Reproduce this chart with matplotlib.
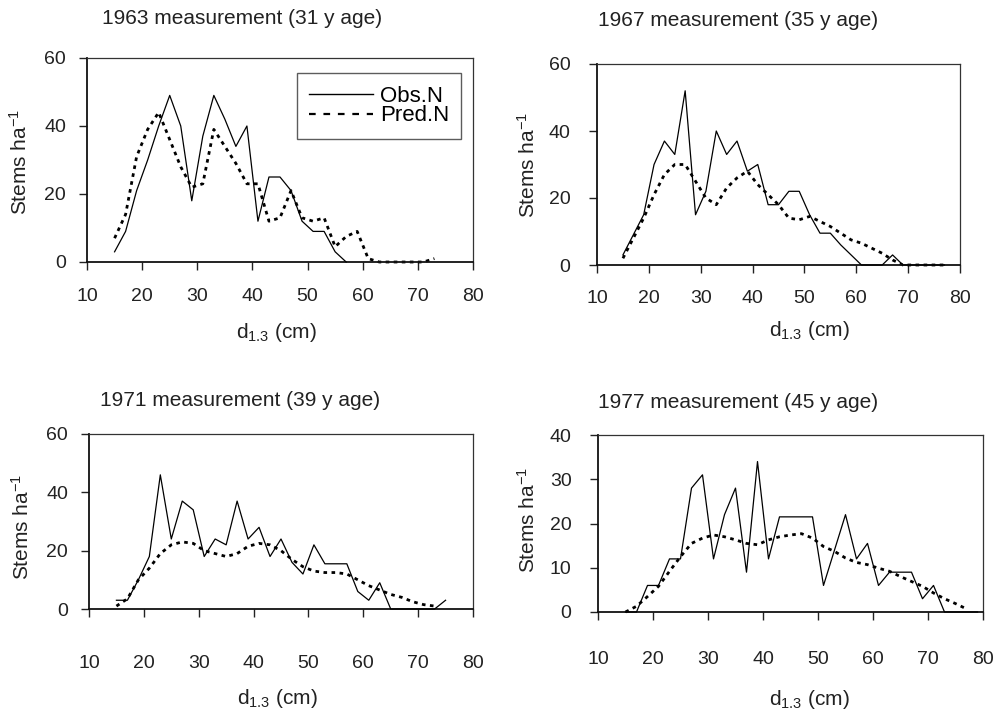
import numpy as np
import matplotlib
matplotlib.use("Agg")
import matplotlib.pyplot as plt

plt.rcParams['font.family'] = ['Liberation Sans', 'DejaVu Sans']
plt.rcParams['mathtext.fontset'] = 'custom'
plt.rcParams['mathtext.rm'] = 'Liberation Sans'
plt.rcParams['mathtext.it'] = 'Liberation Sans'

# diameter classes (cm)
d = np.arange(15, 80, 2)

obs_1963 = [3, 9, 21, 30, 40, 49, 40, 18, 37, 49, 42, 34, 40, 12, 25, 25, 21, 12, 9, 9, 3, 0]
pred_1963 = [7, 14, 31, 39, 44, 36, 28, 22, 23, 39, 34, 29, 23, 23, 12, 13, 21, 13, 12, 13, 4.5, 7.5,
             9, 1, 0, 0, 0, 0, 0, 1]

obs_1967 = [3, 9, 15, 30, 37, 33, 52, 15, 22, 40, 33, 37, 28, 30, 18, 18, 22, 22, 15, 9.5, 9.5, 6, 3,
            0, 0, 0, 3, 0, 0, 0, 0, 0]
pred_1967 = [2, 8, 14, 21, 27, 30, 30, 25, 20, 18, 23, 26, 28, 24, 21, 18, 14, 13.5, 14.5, 13, 11.5,
             9.5, 7.5, 6.5, 5, 3.5, 1.5, 0, 0, 0, 0, 0]

obs_1971 = [3, 3, 10, 18, 46, 24, 37, 34, 18, 24, 22, 37, 24, 28, 18, 24, 16, 12, 22, 15.5, 15.5,
            15.5, 6, 3, 9, 0, 0, 0, 0, 0, 3]
pred_1971 = [1, 3.5, 10, 14, 19, 22, 23, 22.5, 20, 19, 18, 19, 21.5, 22.5, 22, 20, 17, 14.5, 13,
             12.5, 12.5, 12, 10, 8, 6.5, 5, 4, 2.5, 1.5, 1]

obs_1977 = [0, 0, 6, 6, 12, 12, 28, 31, 12, 22, 28, 9, 34, 12, 21.5, 21.5, 21.5, 21.5, 6, 14, 22,
            12, 15.5, 6, 9, 9, 9, 3, 6, 0, 0, 0, 0]
pred_1977 = [0, 1.3, 3.5, 5.8, 9.2, 12.5, 15.5, 16.7, 17.4, 17, 16.3, 15.5, 15.2, 16.3, 17, 17.4,
             17.7, 16.7, 14.8, 13.7, 12.2, 11.2, 10.7, 9.9, 9.2, 8, 6.9, 5.8, 4.3, 3, 1.9, 0.7]

titles = ["1963 measurement (31 y age)", "1967 measurement (35 y age)",
          "1971 measurement (39 y age)", "1977 measurement (45 y age)"]
y_tops = [60, 60, 60, 40]
y_ticks = [[0, 20, 40, 60], [0, 20, 40, 60], [0, 20, 40, 60], [0, 10, 20, 30, 40]]
x_ticks = [10, 20, 30, 40, 50, 60, 70, 80]

W, H = 994, 711
fig = plt.figure(figsize=(W / 100, H / 100), dpi=100)

def px_rect(l, r, t, b):
    return [l / W, 1 - b / H, (r - l) / W, (b - t) / H]

rects = [px_rect(87, 473, 58, 262), px_rect(597, 960, 64, 265),
         px_rect(89, 473, 434, 609), px_rect(598, 983, 435, 612)]
title_pos = [(102, 19), (598, 20), (100, 401), (598, 402)]
ylab_pos = [(20, 162), (528, 165), (22, 527), (528, 520)]
xlab_coords = [(0.49, -0.29), (0.584, -0.27), (0.49, -0.445), (0.548, -0.43)]
xpads = [13, 12, 27, 22]
ypads = [9, 13, 9, 13]

series = [(obs_1963, pred_1963), (obs_1967, pred_1967),
          (obs_1971, pred_1971), (obs_1977, pred_1977)]

for i in range(4):
    ax = fig.add_axes(rects[i])
    obs, pred = series[i]
    ax.plot(d[:len(obs)], obs, color="black", lw=0.9, label="Obs.N", clip_on=False, zorder=3)
    ax.plot(d[:len(pred)], pred, color="black", lw=2.0, linestyle=(0, (1.3, 1.6)),
            label="Pred.N", clip_on=False, zorder=2)
    ax.set_xlim(10, 80)
    ax.set_ylim(0, y_tops[i])
    ax.set_xticks(x_ticks)
    ax.set_yticks(y_ticks[i])
    ax.tick_params(axis="x", direction="out", length=6, width=1, labelsize=14, pad=xpads[i],
                   colors="#222222")
    ax.tick_params(axis="y", direction="out", length=6, width=1, labelsize=14, pad=ypads[i],
                   colors="#222222")
    for side in ["left", "bottom"]:
        ax.spines[side].set_linewidth(1.3)
        ax.spines[side].set_color("#111111")
    for side in ["top", "right"]:
        ax.spines[side].set_linewidth(0.9)
        ax.spines[side].set_color("#333333")
    ax.set_xlabel(r"d$_{1.3}$ (cm)", fontsize=15, color="#222222")
    ax.xaxis.set_label_coords(*xlab_coords[i])
    ax.xaxis.label.set_va("top")
    fig.text(title_pos[i][0] / W, 1 - title_pos[i][1] / H, titles[i], fontsize=15,
             ha="left", va="center", color="#222222")
    fig.text(ylab_pos[i][0] / W, 1 - ylab_pos[i][1] / H, r"Stems ha$^{-1}$", fontsize=15,
             rotation=90, ha="center", va="center", color="#222222")
    if i == 0:
        leg = ax.legend(loc="upper right", bbox_to_anchor=(0.97, 0.925), fontsize=16,
                        frameon=True, fancybox=False, handlelength=2.9, labelspacing=-0.05,
                        borderpad=0.55, handletextpad=0.3, borderaxespad=0)
        leg.get_frame().set_edgecolor("#333333")
        leg.get_frame().set_linewidth(1.0)
        hl = leg.get_lines()
        hl[0].set_linewidth(1.0)
        hl[1].set_linewidth(1.6)
        hl[1].set_linestyle((0, (3, 3.5)))

fig.savefig("out.png", dpi=100)
